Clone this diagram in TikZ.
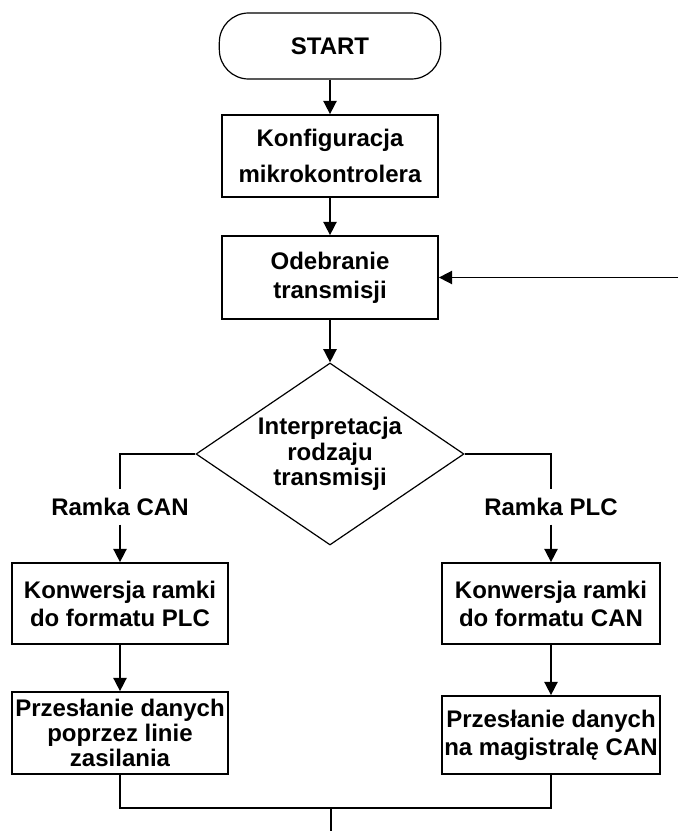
\documentclass[tikz,border=0pt]{standalone}
\usepackage{fontspec}
\setmainfont{Liberation Sans}
\usetikzlibrary{shapes.geometric,arrows.meta}

\begin{document}
\begin{tikzpicture}[x=0.75pt,y=-0.75pt,
        every node/.style={font=\bfseries\fontsize{18}{21}\selectfont,align=center,inner sep=0pt},
        terminal/.style={draw,line width=0.9pt,rounded corners=22pt,minimum width=166pt,minimum height=49.5pt},
        process/.style={draw,line width=1.3pt,minimum width=162pt,minimum height=61.5pt},
        decision/.style={draw,diamond,line width=0.9pt,shape aspect=1.47,minimum width=201pt,minimum height=136.5pt},
        branch/.style={minimum height=26pt},
        conn/.style={line width=1.2pt},
        connarrow/.style={conn,-{Triangle[length=10pt,width=10pt]}}]
        \useasboundingbox (0,0) rectangle (678,831);

        \node[terminal] (start) at (330,46) {START};
        \node[process] (konf) at (330,156) {Konfiguracja\\[6pt]mikrokontrolera};
        \node[process,minimum height=62.25pt] (odeb) at (330,277.5) {Odebranie\\[1pt]transmisji};
        \node[decision] (interp) at (330,454) {Interpretacja\\[-2pt]rodzaju\\[-2pt]transmisji};
        \node[branch] (ramcan) at (120,507) {Ramka CAN};
        \node[branch] (ramplc) at (551,507) {Ramka PLC};
        \node[process,minimum height=60.75pt] (konwplc) at (120,603.5) {Konwersja ramki\\do formatu PLC};
        \node[process,minimum width=163.5pt,minimum height=60.75pt] (konwcan) at (551,603.5) {Konwersja ramki\\do formatu CAN};
        \node[process] (przplc) at (120,733) {Przesłanie danych\\[-2.25pt]poprzez linie\\[-2.25pt]zasilania};
        \node[process,minimum width=163.5pt,minimum height=58.5pt] (przcan) at (551,735) {Przesłanie danych\\na magistralę CAN};

        \coordinate (back) at (678,277.5);
        \coordinate (join) at (331,808);
        \coordinate (out) at (331,831);

        \draw[connarrow] (start) -- (konf);
        \draw[connarrow] (konf) -- (odeb);
        \draw[connarrow] (odeb) -- (interp);
        \draw[connarrow] (back) -- (odeb);
        \draw[conn] (interp.west) -| (ramcan.north);
        \draw[conn] (interp.east) -| (ramplc.north);
        \draw[connarrow] (ramcan) -- (konwplc);
        \draw[connarrow] (ramplc) -- (konwcan);
        \draw[connarrow] (konwplc) -- (przplc);
        \draw[connarrow] (konwcan) -- (przcan);
        \draw[conn] (przplc) |- (join) -| (przcan);
        \draw[conn] (join) -- (out);
\end{tikzpicture}
\end{document}
